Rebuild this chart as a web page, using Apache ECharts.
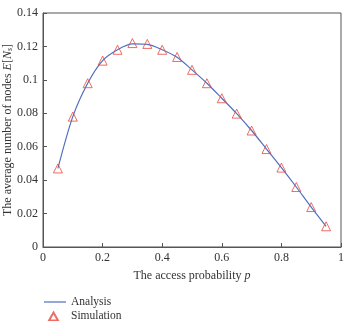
<!DOCTYPE html>
<html>
<head>
<meta charset="utf-8">
<script src="https://cdn.jsdelivr.net/npm/echarts@6/dist/echarts.min.js"></script>
<style>
html, body { margin: 0; padding: 0; background: #fff; }
#chart { width: 347px; height: 321px; }
</style>
</head>
<body>
<div id="chart"></div>
<script>
var probs = [0.05, 0.1, 0.15, 0.2, 0.25, 0.3, 0.35, 0.4, 0.45, 0.5, 0.55, 0.6, 0.65, 0.7, 0.75, 0.8, 0.85, 0.9, 0.95];
var analysis = [0.047, 0.078, 0.098, 0.1115, 0.118, 0.1215, 0.1212, 0.118, 0.1135, 0.106, 0.098, 0.089, 0.0798, 0.0697, 0.0586, 0.0475, 0.0359, 0.0239, 0.0124];
var simulation = [0.047, 0.078, 0.098, 0.1115, 0.118, 0.122, 0.1215, 0.118, 0.1137, 0.106, 0.098, 0.089, 0.0798, 0.0697, 0.0586, 0.0475, 0.0359, 0.0239, 0.0124];
var seriesNames = ['Analysis', 'Simulation'];

var serif = '"Liberation Serif", "DejaVu Serif", serif';
var myChart = echarts.init(document.getElementById('chart'));

function pairs(xs, ys) {
	var out = [];
	for (var i = 0; i < xs.length; i++) out.push([xs[i], ys[i]]);
	return out;
}

// legend icons: keep a 22x10 box so the marks are not stretched
var lineIcon = 'path://M0,0 L0,0 M0,4.4 L22,4.4 L22,5.6 L0,5.6 Z M22,10 L22,10';
var triIcon = 'path://M0,0 L0,0 M9.5,1.5 L14,9.5 L5,9.5 Z M22,10 L22,10';

var option = {
	animation: false,
	grid: {
		left: 43,
		right: 6,
		top: 13,
		bottom: 74,
		outerBoundsMode: 'none',
		containLabel: false,
		show: true,
		borderColor: '#555',
		borderWidth: 1,
		backgroundColor: 'transparent'
	},
	legend: {
		orient: 'vertical',
		left: 43,
		top: 296,
		height: 40,
		padding: 0,
		itemWidth: 22,
		itemHeight: 10,
		itemGap: 2,
		textStyle: { fontFamily: serif, fontSize: 11.5, lineHeight: 12, color: '#333' },
		data: [
			{ name: seriesNames[0], icon: lineIcon, itemStyle: { color: '#4f6fbf' } },
			{ name: seriesNames[1], icon: triIcon }
		]
	},
	xAxis: {
		type: 'value',
		min: 0,
		max: 1,
		interval: 0.2,
		name: 'The access probability {i|p}',
		nameLocation: 'middle',
		nameGap: 23,
		nameMoveOverlap: false,
		nameTextStyle: {
			fontFamily: serif, fontSize: 12, color: '#333',
			rich: { i: { fontFamily: serif, fontStyle: 'italic', fontSize: 12, color: '#333' } }
		},
		axisLine: { lineStyle: { color: '#555', width: 1 } },
		axisTick: { inside: true, length: 4, lineStyle: { color: '#555' } },
		axisLabel: { fontFamily: serif, fontSize: 12, color: '#333', margin: 5 },
		splitLine: { show: false }
	},
	yAxis: {
		type: 'value',
		min: 0,
		max: 0.14,
		interval: 0.02,
		name: 'The average number of nodes {i|E}[{i|N}{s|s}]',
		nameLocation: 'middle',
		nameGap: 29,
		nameMoveOverlap: false,
		nameTextStyle: {
			fontFamily: serif, fontSize: 12, color: '#333',
			rich: {
				i: { fontFamily: serif, fontStyle: 'italic', fontSize: 12, color: '#333' },
				s: { fontFamily: serif, fontStyle: 'italic', fontSize: 8, color: '#333', verticalAlign: 'bottom', padding: [4, 0, 0, 0] }
			}
		},
		axisLine: { show: true, lineStyle: { color: '#555', width: 1 } },
		axisTick: { show: true, inside: true, length: 4, lineStyle: { color: '#555' } },
		axisLabel: { fontFamily: serif, fontSize: 12, color: '#333', margin: 5 },
		splitLine: { show: false }
	},
	series: [
		{
			name: seriesNames[0],
			type: 'line',
			smooth: 0.3,
			symbol: 'none',
			data: pairs(probs, analysis),
			lineStyle: { color: '#4f6fbf', width: 1.2 },
			itemStyle: { color: '#4f6fbf' },
			z: 2
		},
		{
			name: seriesNames[1],
			type: 'scatter',
			symbol: 'triangle',
			symbolSize: 9,
			data: pairs(probs, simulation),
			itemStyle: { color: 'rgba(255,255,255,0)', borderColor: '#e8493f', borderWidth: 1 },
			z: 3
		}
	]
};

myChart.setOption(option);
window.onresize = myChart.resize;
</script>
</body>
</html>
